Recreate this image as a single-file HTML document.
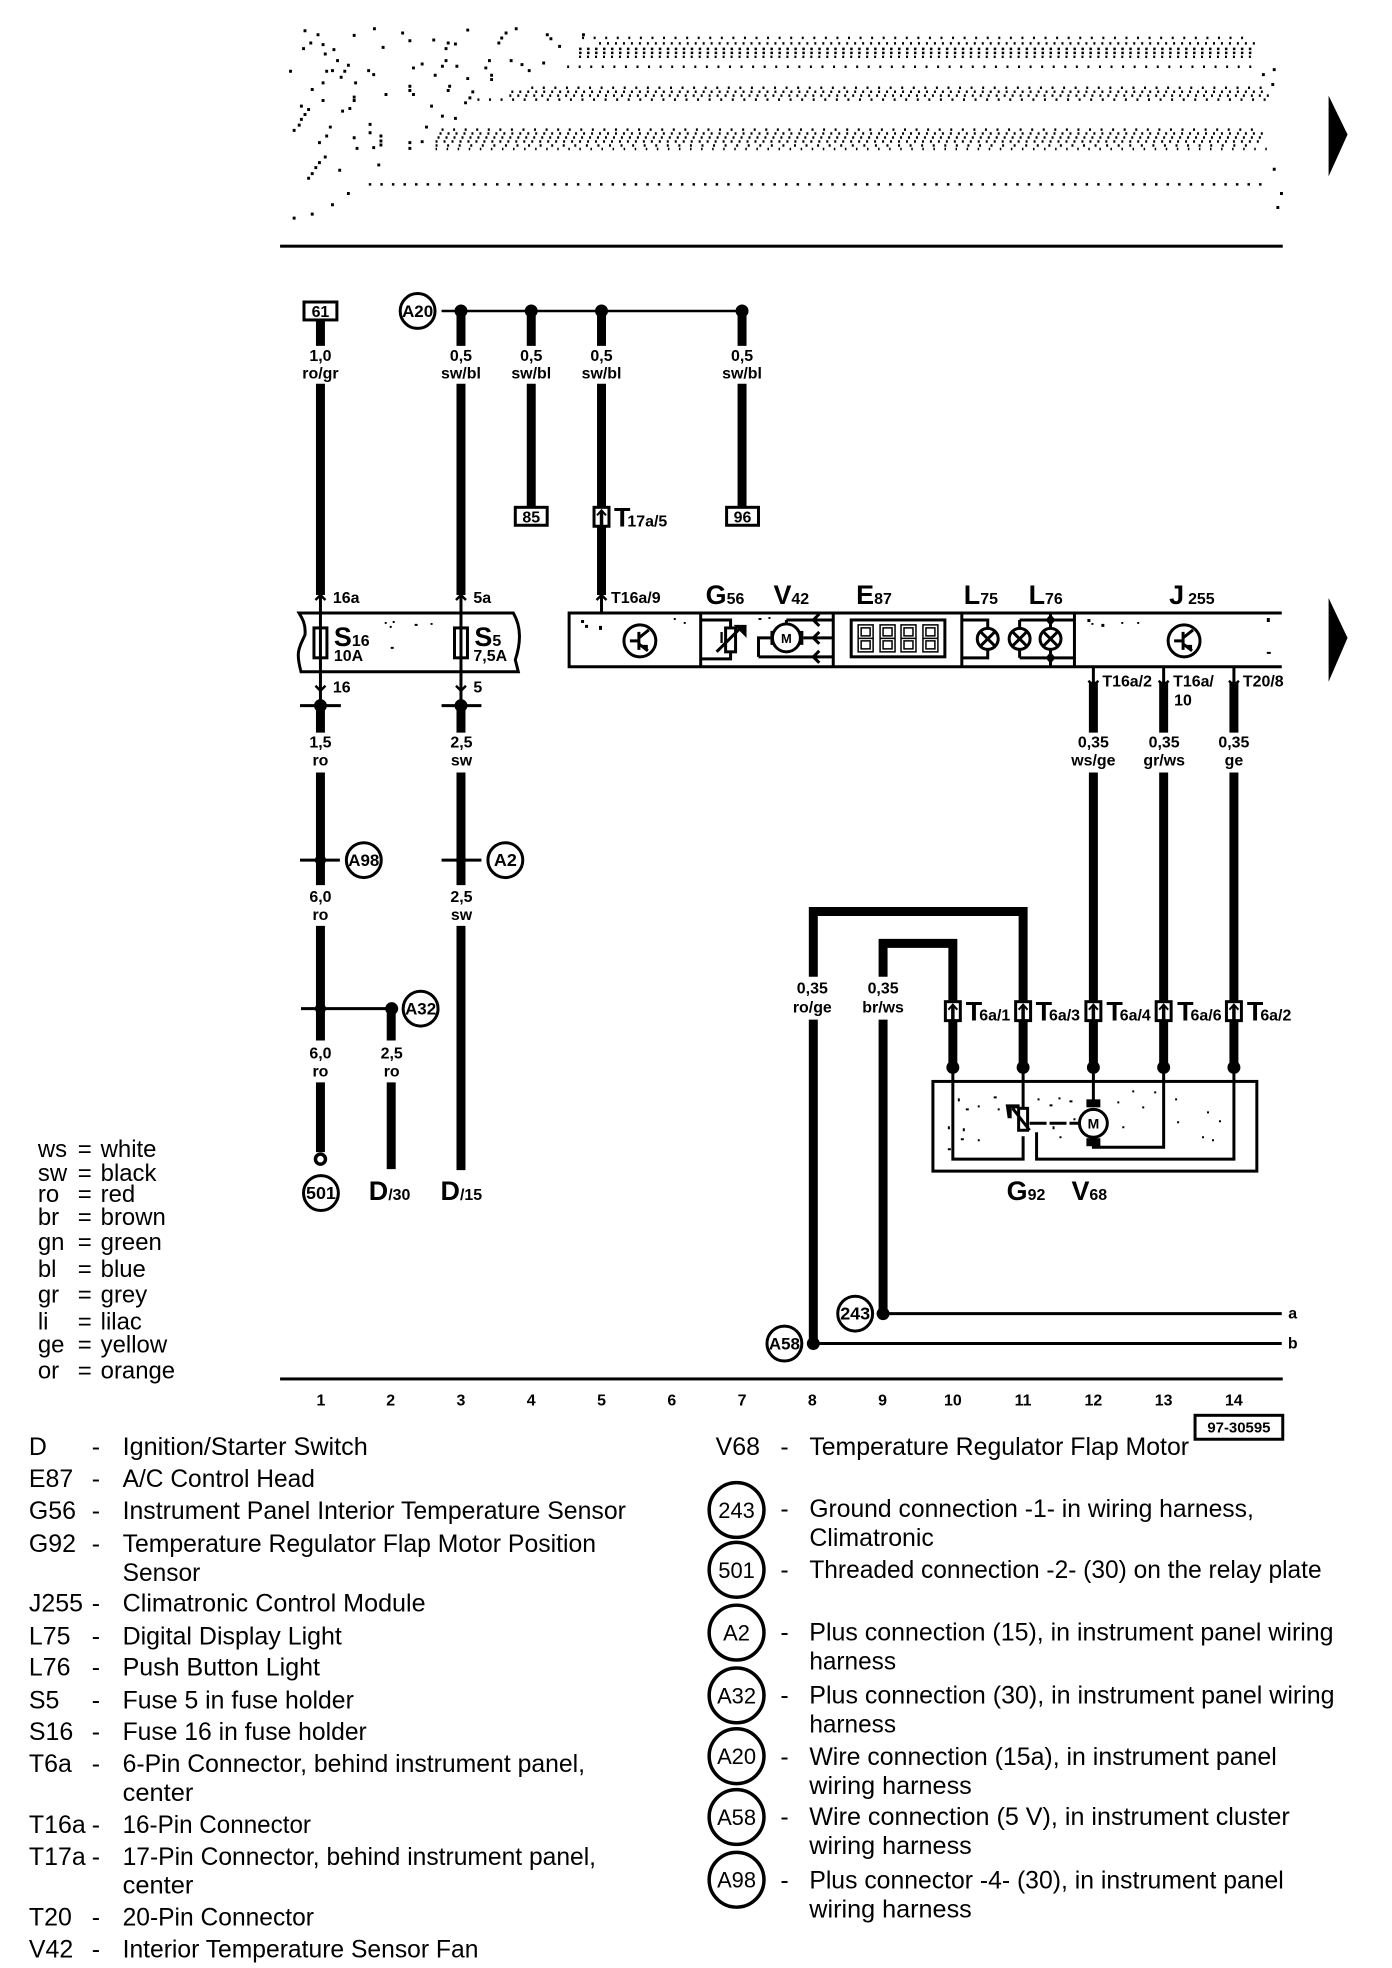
<!DOCTYPE html>
<html>
<head>
<meta charset="utf-8">
<style>
html,body{margin:0;padding:0;background:#fff}
svg{display:block}
text{font-family:"Liberation Sans",sans-serif;fill:#000}
.b{font-weight:bold;font-size:16px;text-anchor:middle}
.n{font-weight:bold;font-size:16px}
.l{font-size:25px}
.big{font-weight:bold;font-size:27px}
.sm{font-weight:bold;font-size:16px}
.w{stroke:#000;stroke-width:9;fill:none}
.t{stroke:#000;stroke-width:2.5;fill:none}
.th{stroke:#000;stroke-width:3;fill:none}
.row{stroke:#000;stroke-width:2.5;fill:none}
</style>
</head>
<body>
<svg xmlns="http://www.w3.org/2000/svg" width="1392" height="1968" viewBox="0 0 1392 1968">
<defs>
<g id="conn"><rect x="-7.5" y="-9" width="15" height="19" fill="#fff" stroke="#000" stroke-width="3"/><path d="M-4.5 -1 L0 -6 L4.5 -1" fill="none" stroke="#000" stroke-width="2"/><path d="M0 -5V9" stroke="#000" stroke-width="3.5"/></g>
<g id="lamp"><circle r="10.5" fill="#fff" stroke="#000" stroke-width="3"/><path d="M-7 -7L7 7M7 -7L-7 7" stroke="#000" stroke-width="3"/></g>
<g id="tr"><circle r="16" fill="#fff" stroke="#000" stroke-width="3"/><path d="M-10 0H-1M-1 -9V9M-1 -3L9 -11M-1 3L8 10" stroke="#000" stroke-width="3" fill="none"/><path d="M1 4L8 4L8 10Z" fill="#000"/></g>
<g id="up"><path d="M-5 5L0 0L5 5" fill="none" stroke="#000" stroke-width="2.5"/></g>
<g id="dn"><path d="M-5 -5L0 0L5 -5" fill="none" stroke="#000" stroke-width="2.5"/></g>
</defs>
<g transform="translate(1 0) scale(.9967)">

<!-- Top garbled text rows -->
<g class="row">
<line x1="583" y1="38" x2="1250" y2="38" stroke-dasharray="2 9.6"/>
<line x1="600" y1="43.5" x2="1258" y2="43.5" stroke-dasharray="2 6"/>
<line x1="580" y1="49" x2="1258" y2="49" stroke-dasharray="2.5 5.5"/>
<line x1="580" y1="53" x2="1258" y2="53" stroke-dasharray="2.5 5.5"/>
<line x1="580" y1="57" x2="1258" y2="57" stroke-dasharray="2 6"/>
<line x1="568" y1="67" x2="1261" y2="67" stroke-dasharray="2 9.6"/>
<line x1="532" y1="88" x2="1272" y2="88" stroke-dasharray="2 9.6"/>
<line x1="512" y1="92" x2="1272" y2="92" stroke-dasharray="2 6"/>
<line x1="510" y1="96" x2="1272" y2="96" stroke-dasharray="2 6"/>
<line x1="478" y1="100" x2="1272" y2="100" stroke-dasharray="2 9.6"/>
<line x1="442" y1="130" x2="1265" y2="130" stroke-dasharray="2 9.6"/>
<line x1="440" y1="134" x2="1268" y2="134" stroke-dasharray="2 6"/>
<line x1="438" y1="138" x2="1268" y2="138" stroke-dasharray="2 6"/>
<line x1="436" y1="142" x2="1268" y2="142" stroke-dasharray="2 6"/>
<line x1="436" y1="146" x2="1258" y2="146" stroke-dasharray="2 9.6"/>
<line x1="436" y1="149.5" x2="1272" y2="149.5" stroke-dasharray="1.5 9.6"/>
<line x1="369" y1="185" x2="1272" y2="185" stroke-dasharray="2.5 9.1"/>
</g>
<g transform="translate(260,0) scale(.7257,.3333)" fill="#000">
<path d="M60 88h4v9h-4zM78 100h4v9h-4zM128 102h4v9h-4zM156 82h4v9h-4zM195 95h4v9h-4zM205 118h4v9h-4zM238 116h4v9h-4zM285 86h4v9h-4zM352 82h4v9h-4zM338 95h4v9h-4zM332 110h4v9h-4zM328 125h4v9h-4zM395 100h4v9h-4zM400 112h4v9h-4zM445 100h4v9h-4zM412 135h4v9h-4zM68 125h4v9h-4zM85 130h4v9h-4zM58 142h4v9h-4zM100 145h4v9h-4zM88 158h4v9h-4zM168 138h4v9h-4zM255 142h4v9h-4zM268 128h4v9h-4zM258 125h4v9h-4zM105 178h4v9h-4zM120 192h4v9h-4zM115 210h4v9h-4zM110 228h4v9h-4zM40 210h4v9h-4zM90 210h4v9h-4zM98 208h4v9h-4zM148 208h4v9h-4zM155 220h4v9h-4zM210 200h4v9h-4zM222 188h4v9h-4zM255 178h4v9h-4zM250 195h4v9h-4zM270 195h4v9h-4zM315 178h4v9h-4zM310 200h4v9h-4zM345 178h4v9h-4zM360 190h4v9h-4zM370 208h4v9h-4zM390 185h4v9h-4zM240 222h4v9h-4zM285 232h4v9h-4zM318 222h4v9h-4zM318 235h4v9h-4zM85 245h4v9h-4zM130 245h4v9h-4zM70 265h4v9h-4zM205 255h4v9h-4zM205 268h4v9h-4zM210 280h4v9h-4zM260 255h4v9h-4zM258 268h4v9h-4zM172 280h4v9h-4zM292 272h4v9h-4zM288 290h4v9h-4zM282 305h4v9h-4zM128 288h4v9h-4zM128 298h4v9h-4zM85 298h4v9h-4zM235 315h4v9h-4zM55 315h4v9h-4zM65 325h4v9h-4zM60 340h4v9h-4zM55 355h4v9h-4zM122 322h4v9h-4zM112 330h4v9h-4zM250 345h4v9h-4zM268 352h4v9h-4zM45 388h4v9h-4zM52 372h4v9h-4zM95 378h4v9h-4zM150 370h4v9h-4zM90 405h4v9h-4zM128 410h4v9h-4zM150 395h4v9h-4zM165 405h4v9h-4zM165 420h4v9h-4zM165 432h4v9h-4zM155 440h4v9h-4zM132 442h4v9h-4zM205 425h4v9h-4zM205 442h4v9h-4zM228 378h4v9h-4zM222 422h4v9h-4zM80 425h4v9h-4zM88 468h4v9h-4zM80 485h4v9h-4zM75 500h4v9h-4zM70 518h4v9h-4zM65 532h4v9h-4zM108 508h4v9h-4zM162 492h4v9h-4zM120 578h4v9h-4zM98 612h4v9h-4zM70 640h4v9h-4zM45 652h4v9h-4zM1385 220h4v9h-4zM1400 205h4v9h-4zM1398 250h4v9h-4zM1400 505h4v9h-4zM1410 578h4v9h-4zM1405 620h4v9h-4z"/>
</g>

<!-- rules -->
<rect x="280" y="245.500" width="1006" height="3" fill="#000"/>
<rect x="280" y="1382" width="1006" height="3" fill="#000"/>

<!-- big arrows -->
<path d="M1332 96L1351 135L1332 177Z" fill="#000"/>
<path d="M1332 600L1351 640L1332 684Z" fill="#000"/>

<!-- Top bus -->
<line class="t" x1="442" y1="312" x2="743" y2="312"/>
<circle cx="418" cy="312" r="17.500" fill="#fff" stroke="#000" stroke-width="3"/>
<text x="418" y="318" class="b" style="font-size:17px">A20</text>
<circle cx="461.500" cy="312" r="6.500"/><circle cx="532" cy="312" r="6.500"/><circle cx="602.500" cy="312" r="6.500"/><circle cx="743.500" cy="312" r="6.500"/>

<!-- 61 / wire 1 -->
<rect x="304" y="303" width="33" height="18" fill="#fff" stroke="#000" stroke-width="3"/>
<text x="320.500" y="318" class="b">61</text>
<path class="w" d="M320.500 321V347M320.500 385V597"/>
<text x="320.500" y="362" class="b">1,0</text><text x="320.500" y="380" class="b">ro/gr</text>
<use href="#up" x="320.500" y="597"/>
<path class="th" d="M320.500 597V706"/>
<text x="333" y="605" class="n">16a</text>

<!-- wire 3,4,5,7 upper -->
<path class="w" d="M461.500 312V347M461.500 385V597M532 312V347M532 385V508M602.500 312V347M602.500 385V597M743.500 312V347M743.500 385V508"/>
<text x="461.500" y="362" class="b">0,5</text><text x="461.500" y="380" class="b">sw/bl</text>
<text x="532" y="362" class="b">0,5</text><text x="532" y="380" class="b">sw/bl</text>
<text x="602.500" y="362" class="b">0,5</text><text x="602.500" y="380" class="b">sw/bl</text>
<text x="743.500" y="362" class="b">0,5</text><text x="743.500" y="380" class="b">sw/bl</text>
<rect x="516" y="509" width="32" height="18" fill="#fff" stroke="#000" stroke-width="3"/><text x="532" y="524" class="b">85</text>
<rect x="728" y="509" width="32" height="18" fill="#fff" stroke="#000" stroke-width="3"/><text x="744" y="524" class="b">96</text>
<use href="#conn" x="602.500" y="518"/>
<text x="615" y="528"><tspan class="big">T</tspan><tspan class="sm" dx="-3">17a/5</tspan></text>
<use href="#up" x="602.500" y="597"/>
<path class="th" d="M602.500 597V615"/>
<text x="612" y="605" class="n">T16a/9</text>
<use href="#up" x="461.500" y="597"/>
<path class="th" d="M461.500 597V706"/>
<text x="474" y="605" class="n">5a</text>

<!-- Fuse holder -->
<path class="th" d="M299 615H514C524 632 520 650 516 662L519 674H301C296 655 298 652 305 637C306 626 302 620 299 615Z"/>
<rect x="314" y="630" width="13" height="30" fill="#fff" stroke="#000" stroke-width="3"/>
<path class="th" d="M320.500 630V660"/>
<rect x="455" y="630" width="13" height="30" fill="#fff" stroke="#000" stroke-width="3"/>
<path class="th" d="M461.500 630V660"/>
<text x="334" y="648"><tspan class="big">S</tspan><tspan class="sm">16</tspan></text>
<text x="334" y="663" class="n">10A</text>
<text x="475" y="648"><tspan class="big">S</tspan><tspan class="sm">5</tspan></text>
<text x="474" y="663" class="n">7,5A</text>
<path fill="#000" d="M385 624h2v2h-2zM393 623h2v2h-2zM390 628h2v2h-2zM415 626h3v2h-3zM431 625h2v2h-2zM391 649h3v2h-3z"/>
<use href="#dn" x="320.500" y="693"/><use href="#dn" x="461.500" y="693"/>
<text x="333" y="695" class="n">16</text><text x="474" y="695" class="n">5</text>

<!-- Column 1 lower -->
<path class="th" d="M300 708H341M442 708H482M300 863H340M442 863H482M301 1012H392"/>
<path class="w" d="M320.500 706V735M320.500 775V888M320.500 929V1044M320.500 1086V1156"/>
<circle cx="320.500" cy="708" r="6.500"/><circle cx="461.500" cy="708" r="6.500"/>
<circle cx="320.500" cy="863" r="5.500"/><circle cx="461.500" cy="863" r="5"/>
<circle cx="320.500" cy="1012" r="5.500"/><circle cx="392" cy="1012" r="6.500"/>
<circle cx="320.500" cy="1163" r="5" fill="#fff" stroke="#000" stroke-width="3.500"/>
<text x="320.500" y="750" class="b">1,5</text><text x="320.500" y="768" class="b">ro</text>
<text x="320.500" y="905" class="b">6,0</text><text x="320.500" y="923" class="b">ro</text>
<text x="320.500" y="1062" class="b">6,0</text><text x="320.500" y="1080" class="b">ro</text>
<circle cx="364" cy="863" r="17.500" fill="#fff" stroke="#000" stroke-width="3"/><text x="364" y="869" class="b" style="font-size:17px">A98</text>
<circle cx="506" cy="863" r="17.500" fill="#fff" stroke="#000" stroke-width="3"/><text x="506" y="869" class="b" style="font-size:18px">A2</text>
<circle cx="421" cy="1012" r="17.500" fill="#fff" stroke="#000" stroke-width="3"/><text x="421" y="1018" class="b" style="font-size:17px">A32</text>
<circle cx="321" cy="1197" r="17.500" fill="#fff" stroke="#000" stroke-width="3"/><text x="321" y="1203" class="b" style="font-size:18px">501</text>
<!-- Column 2 -->
<path class="w" d="M391.500 1012V1044M391.500 1086V1173"/>
<text x="392" y="1062" class="b">2,5</text><text x="392" y="1080" class="b">ro</text>
<text x="369" y="1204"><tspan class="big">D</tspan><tspan class="sm">/30</tspan></text>
<text x="441" y="1204"><tspan class="big">D</tspan><tspan class="sm">/15</tspan></text>
<!-- Column 3 -->
<path class="w" d="M461.500 706V735M461.500 775V888M461.500 929V1174"/>
<text x="462" y="750" class="b">2,5</text><text x="462" y="768" class="b">sw</text>
<text x="462" y="905" class="b">2,5</text><text x="462" y="923" class="b">sw</text>

<!-- Module -->
<path class="th" d="M1285 615H570V669H1285"/>
<path class="th" d="M702 615V669M835 615V669M964 615V669M1077 615V669"/>
<use href="#tr" x="641" y="643"/>
<use href="#tr" x="1187" y="643"/>
<path fill="#000" d="M582 622h3v3h-3zM586 627h3v3h-3zM600 628h3v4h-3zM685 624h2v2h-2zM675 620h2v2h-2zM1090 621h3v3h-3zM1094 625h2v2h-2zM1104 626h3v3h-3zM1124 624h2v2h-2zM1140 624h2v2h-2zM1270 620h3v4h-3zM1270 654h4v2h-4zM760 620h3v2h-3zM770 619h2v2h-2z"/>
<text x="707" y="606"><tspan class="big">G</tspan><tspan class="sm">56</tspan></text>
<text x="775" y="606"><tspan class="big">V</tspan><tspan class="sm">42</tspan></text>
<text x="858" y="606"><tspan class="big">E</tspan><tspan class="sm">87</tspan></text>
<text x="966" y="606"><tspan class="big">L</tspan><tspan class="sm">75</tspan></text>
<text x="1031" y="606"><tspan class="big">L</tspan><tspan class="sm">76</tspan></text>
<text x="1172" y="606"><tspan class="big">J</tspan></text>
<text x="1191" y="606" class="sm">255</text>

<!-- G56 symbol -->
<path class="th" d="M702 622H732V661H702"/>
<rect x="727" y="630" width="10" height="24" fill="#fff" stroke="#000" stroke-width="3"/>
<path class="th" d="M718 654L742 630"/>
<path fill="#000" d="M735 627H748V640Z"/>
<text x="723" y="645" class="b" style="font-size:16px">I</text>
<!-- V42 symbol -->
<path class="th" d="M788 622V625M788 622H835M760 659H835M760 659V640H772M805 640H835"/>
<rect x="772" y="633" width="7" height="14" fill="#000"/><rect x="798" y="633" width="7" height="14" fill="#000"/>
<circle cx="788" cy="640" r="14" fill="#fff" stroke="#000" stroke-width="3"/>
<text x="788" y="645" class="b" style="font-size:13px">M</text>
<path class="th" d="M821 616L815 622L821 628M821 634L815 640L821 646M821 653L815 659L821 665"/>
<!-- E87 -->
<rect x="853" y="622" width="94" height="37" fill="#fff" stroke="#000" stroke-width="3"/>
<g fill="none" stroke="#000" stroke-width="1.500">
<path d="M860 627H875V654H860ZM860 640.500H875M863 630H872V638H863ZM863 643H872V651H863Z"/>
<path d="M882 627H897V654H882ZM882 640.500H897M885 630H894V638H885ZM885 643H894V651H885Z"/>
<path d="M903 627H918V654H903ZM903 640.500H918M906 630H915V638H906ZM906 643H915V651H906Z"/>
<path d="M925 627H940V654H925ZM925 640.500H940M928 630H937V638H928ZM928 643H937V651H928Z"/>
</g>
<!-- Lamps -->
<path class="th" d="M964 622H990V660H964"/>
<path class="th" d="M1022 660H1077M1022 622H1077M1022 622V660M1053 615V669"/>
<use href="#lamp" x="990" y="641"/><use href="#lamp" x="1022" y="641"/><use href="#lamp" x="1053" y="641"/>
<path fill="#000" d="M1053 616L1058 622L1053 628L1048 622ZM1053 654L1058 660L1053 666L1048 660Z"/>

<!-- Right wires -->
<path class="th" d="M1096 669V690M1166.500 669V690M1237 669V690"/>
<use href="#dn" x="1096" y="688"/><use href="#dn" x="1166.500" y="688"/><use href="#dn" x="1237" y="688"/>
<path class="w" d="M1096 684V735M1096 775V1071M1166.500 684V735M1166.500 775V1071M1237 684V735M1237 775V1071"/>
<text x="1105" y="689" class="n">T16a/2</text>
<text x="1176" y="689" class="n">T16a/</text>
<text x="1177" y="708" class="n">10</text>
<text x="1246" y="689" class="n">T20/8</text>
<text x="1096" y="750" class="b">0,35</text><text x="1096" y="768" class="b">ws/ge</text>
<text x="1167" y="750" class="b">0,35</text><text x="1167" y="768" class="b">gr/ws</text>
<text x="1237" y="750" class="b">0,35</text><text x="1237" y="768" class="b">ge</text>

<!-- Loops -->
<path class="w" d="M815 980V914.500H1025.500V1071"/>
<path class="w" d="M885 980V946.500H955V1071"/>
<path class="w" d="M815 1023V1348M885 1023V1318"/>
<text x="814" y="997" class="b">0,35</text><text x="814" y="1016" class="b">ro/ge</text>
<text x="885" y="997" class="b">0,35</text><text x="885" y="1016" class="b">br/ws</text>
<use href="#conn" x="955" y="1014"/><use href="#conn" x="1025.500" y="1014"/><use href="#conn" x="1096" y="1014"/><use href="#conn" x="1166.500" y="1014"/><use href="#conn" x="1237" y="1014"/>
<text x="968" y="1024"><tspan class="big">T</tspan><tspan class="sm" dx="-3">6a/1</tspan></text>
<text x="1038" y="1024"><tspan class="big">T</tspan><tspan class="sm" dx="-3">6a/3</tspan></text>
<text x="1109" y="1024"><tspan class="big">T</tspan><tspan class="sm" dx="-3">6a/4</tspan></text>
<text x="1180" y="1024"><tspan class="big">T</tspan><tspan class="sm" dx="-3">6a/6</tspan></text>
<text x="1250" y="1024"><tspan class="big">T</tspan><tspan class="sm" dx="-3">6a/2</tspan></text>

<!-- Device box -->
<rect x="935" y="1085" width="325" height="90" fill="none" stroke="#000" stroke-width="3"/>
<circle cx="955" cy="1071" r="6.500"/><circle cx="1025.500" cy="1071" r="6.500"/><circle cx="1096" cy="1071" r="6.500"/><circle cx="1166.500" cy="1071" r="6.500"/><circle cx="1237" cy="1071" r="6.500"/>
<path class="th" d="M955 1071V1163H1025.500V1140M1025.500 1071V1112M1096 1071V1108M1096 1142V1151H1166.500V1071M1237 1071V1163H1039V1136"/>
<rect x="1021" y="1112" width="9" height="22" fill="#fff" stroke="#000" stroke-width="3"/>
<path class="th" d="M1032 1134L1015 1112"/>
<path fill="#000" d="M1008 1108H1022V1112H1014V1122H1010Z"/>
<path class="th" d="M1032 1127H1082" stroke-dasharray="17 3"/>
<rect x="1089" y="1103" width="14" height="8" fill="#000"/><rect x="1089" y="1142" width="14" height="8" fill="#000"/>
<circle cx="1096" cy="1127" r="14" fill="#fff" stroke="#000" stroke-width="3"/>
<text x="1096" y="1132" class="b" style="font-size:14px">M</text>
<path fill="#000" d="M960 1102h2v3h-2zM968 1112h3v2h-3zM980 1109h2v2h-2zM996 1100h3v2h-3zM1000 1112h2v2h-2zM1040 1102h2v2h-2zM1052 1108h3v2h-3zM1061 1101h2v2h-2zM1072 1104h3v2h-3zM1076 1122h2v2h-2zM950 1130h2v3h-2zM965 1132h2v3h-2zM963 1142h3v2h-3zM980 1143h2v2h-2zM1055 1130h2v3h-2zM1062 1140h2v2h-2zM1120 1105h2v2h-2zM1135 1094h2v2h-2zM1145 1110h2v2h-2zM1157 1095h2v2h-2zM1178 1102h2v2h-2zM1210 1115h2v2h-2zM1222 1124h2v2h-2zM1205 1140h2v2h-2zM1215 1143h2v2h-2zM1180 1125h2v2h-2zM950 1152h3v2h-3zM1125 1130h2v2h-2z"/>
<text x="1009" y="1204"><tspan class="big">G</tspan><tspan class="sm">92</tspan></text>
<text x="1074" y="1204"><tspan class="big">V</tspan><tspan class="sm">68</tspan></text>

<!-- a, b lines -->
<path class="th" d="M885 1318H1285M815 1348H1285"/>
<circle cx="885" cy="1318" r="6.500"/><circle cx="815" cy="1348" r="6.500"/>
<circle cx="857" cy="1318" r="17.500" fill="#fff" stroke="#000" stroke-width="3"/><text x="857" y="1324" class="b" style="font-size:18px">243</text>
<circle cx="786" cy="1348" r="17.500" fill="#fff" stroke="#000" stroke-width="3"/><text x="786" y="1354" class="b" style="font-size:17px">A58</text>
<text x="1296" y="1323" class="b">a</text><text x="1296" y="1353" class="b">b</text>

<!-- column numbers -->
<g class="b">
<text x="321" y="1410">1</text><text x="391" y="1410">2</text><text x="461.500" y="1410">3</text><text x="532" y="1410">4</text><text x="602.500" y="1410">5</text><text x="673" y="1410">6</text><text x="743.500" y="1410">7</text><text x="814" y="1410">8</text><text x="884.500" y="1410">9</text><text x="955" y="1410">10</text><text x="1025.500" y="1410">11</text><text x="1096" y="1410">12</text><text x="1166.500" y="1410">13</text><text x="1237" y="1410">14</text>
</g>
<rect x="1198" y="1420" width="88" height="24" fill="#fff" stroke="#000" stroke-width="3"/>
<text x="1242" y="1437" class="b" style="font-size:15px">97-30595</text>

<!-- Colour legend -->
<g style="font-size:24px">
<text x="37" y="1161">ws</text><text x="77" y="1161">=</text><text x="100" y="1161">white</text>
<text x="37" y="1185">sw</text><text x="77" y="1185">=</text><text x="100" y="1185">black</text>
<text x="37" y="1206">ro</text><text x="77" y="1206">=</text><text x="100" y="1206">red</text>
<text x="37" y="1229">br</text><text x="77" y="1229">=</text><text x="100" y="1229">brown</text>
<text x="37" y="1254">gn</text><text x="77" y="1254">=</text><text x="100" y="1254">green</text>
<text x="37" y="1281">bl</text><text x="77" y="1281">=</text><text x="100" y="1281">blue</text>
<text x="37" y="1307">gr</text><text x="77" y="1307">=</text><text x="100" y="1307">grey</text>
<text x="37" y="1334">li</text><text x="77" y="1334">=</text><text x="100" y="1334">lilac</text>
<text x="37" y="1357">ge</text><text x="77" y="1357">=</text><text x="100" y="1357">yellow</text>
<text x="37" y="1383">or</text><text x="77" y="1383">=</text><text x="100" y="1383">orange</text>
</g>

<!-- Left list -->
<g class="l">
<text x="28" y="1460">D</text><text x="91" y="1460">-</text><text x="122" y="1460" textLength="246" lengthAdjust="spacingAndGlyphs">Ignition/Starter Switch</text>
<text x="28" y="1492">E87</text><text x="91" y="1492">-</text><text x="122" y="1492" textLength="193" lengthAdjust="spacingAndGlyphs">A/C Control Head</text>
<text x="28" y="1524">G56</text><text x="91" y="1524">-</text><text x="122" y="1524" textLength="505" lengthAdjust="spacingAndGlyphs">Instrument Panel Interior Temperature Sensor</text>
<text x="28" y="1557">G92</text><text x="91" y="1557">-</text><text x="122" y="1557" textLength="475" lengthAdjust="spacingAndGlyphs">Temperature Regulator Flap Motor Position</text>
<text x="122" y="1586" textLength="78" lengthAdjust="spacingAndGlyphs">Sensor</text>
<text x="28" y="1617">J255</text><text x="91" y="1617">-</text><text x="122" y="1617" textLength="304" lengthAdjust="spacingAndGlyphs">Climatronic Control Module</text>
<text x="28" y="1650">L75</text><text x="91" y="1650">-</text><text x="122" y="1650" textLength="220" lengthAdjust="spacingAndGlyphs">Digital Display Light</text>
<text x="28" y="1681">L76</text><text x="91" y="1681">-</text><text x="122" y="1681" textLength="198" lengthAdjust="spacingAndGlyphs">Push Button Light</text>
<text x="28" y="1714">S5</text><text x="91" y="1714">-</text><text x="122" y="1714" textLength="232" lengthAdjust="spacingAndGlyphs">Fuse 5 in fuse holder</text>
<text x="28" y="1746">S16</text><text x="91" y="1746">-</text><text x="122" y="1746" textLength="245" lengthAdjust="spacingAndGlyphs">Fuse 16 in fuse holder</text>
<text x="28" y="1778">T6a</text><text x="91" y="1778">-</text><text x="122" y="1778" textLength="464" lengthAdjust="spacingAndGlyphs">6-Pin Connector, behind instrument panel,</text>
<text x="122" y="1807" textLength="71" lengthAdjust="spacingAndGlyphs">center</text>
<text x="28" y="1839">T16a</text><text x="91" y="1839">-</text><text x="122" y="1839" textLength="189" lengthAdjust="spacingAndGlyphs">16-Pin Connector</text>
<text x="28" y="1871">T17a</text><text x="91" y="1871">-</text><text x="122" y="1871" textLength="475" lengthAdjust="spacingAndGlyphs">17-Pin Connector, behind instrument panel,</text>
<text x="122" y="1900" textLength="71" lengthAdjust="spacingAndGlyphs">center</text>
<text x="28" y="1932">T20</text><text x="91" y="1932">-</text><text x="122" y="1932" textLength="192" lengthAdjust="spacingAndGlyphs">20-Pin Connector</text>
<text x="28" y="1964">V42</text><text x="91" y="1964">-</text><text x="122" y="1964" textLength="357" lengthAdjust="spacingAndGlyphs">Interior Temperature Sensor Fan</text>
</g>

<!-- Right list -->
<g class="l">
<text x="717" y="1460">V68</text><text x="782" y="1460">-</text><text x="811" y="1460" textLength="381" lengthAdjust="spacingAndGlyphs">Temperature Regulator Flap Motor</text>
<text x="782" y="1522">-</text><text x="811" y="1522" textLength="446" lengthAdjust="spacingAndGlyphs">Ground connection -1- in wiring harness,</text>
<text x="811" y="1551" textLength="125" lengthAdjust="spacingAndGlyphs">Climatronic</text>
<text x="782" y="1583">-</text><text x="811" y="1583" textLength="514" lengthAdjust="spacingAndGlyphs">Threaded connection -2- (30) on the relay plate</text>
<text x="782" y="1646">-</text><text x="811" y="1646" textLength="526" lengthAdjust="spacingAndGlyphs">Plus connection (15), in instrument panel wiring</text>
<text x="811" y="1675" textLength="87" lengthAdjust="spacingAndGlyphs">harness</text>
<text x="782" y="1709">-</text><text x="811" y="1709" textLength="527" lengthAdjust="spacingAndGlyphs">Plus connection (30), in instrument panel wiring</text>
<text x="811" y="1738" textLength="87" lengthAdjust="spacingAndGlyphs">harness</text>
<text x="782" y="1771">-</text><text x="811" y="1771" textLength="469" lengthAdjust="spacingAndGlyphs">Wire connection (15a), in instrument panel</text>
<text x="811" y="1800" textLength="163" lengthAdjust="spacingAndGlyphs">wiring harness</text>
<text x="782" y="1831">-</text><text x="811" y="1831" textLength="482" lengthAdjust="spacingAndGlyphs">Wire connection (5 V), in instrument cluster</text>
<text x="811" y="1860" textLength="163" lengthAdjust="spacingAndGlyphs">wiring harness</text>
<text x="782" y="1895">-</text><text x="811" y="1895" textLength="476" lengthAdjust="spacingAndGlyphs">Plus connector -4- (30), in instrument panel</text>
<text x="811" y="1924" textLength="163" lengthAdjust="spacingAndGlyphs">wiring harness</text>
</g>
<g fill="#fff" stroke="#000" stroke-width="3.500">
<circle cx="738" cy="1515" r="27.500"/><circle cx="738" cy="1575" r="27.500"/><circle cx="738" cy="1638" r="27.500"/><circle cx="738" cy="1701" r="27.500"/><circle cx="738" cy="1762" r="27.500"/><circle cx="738" cy="1823" r="27.500"/><circle cx="738" cy="1886" r="27.500"/>
</g>
<g style="font-size:22px;text-anchor:middle">
<text x="738" y="1523">243</text><text x="738" y="1583">501</text><text x="738" y="1646">A2</text><text x="738" y="1709">A32</text><text x="738" y="1770">A20</text><text x="738" y="1831">A58</text><text x="738" y="1894">A98</text>
</g>
</g>
</svg>
</body>
</html>
